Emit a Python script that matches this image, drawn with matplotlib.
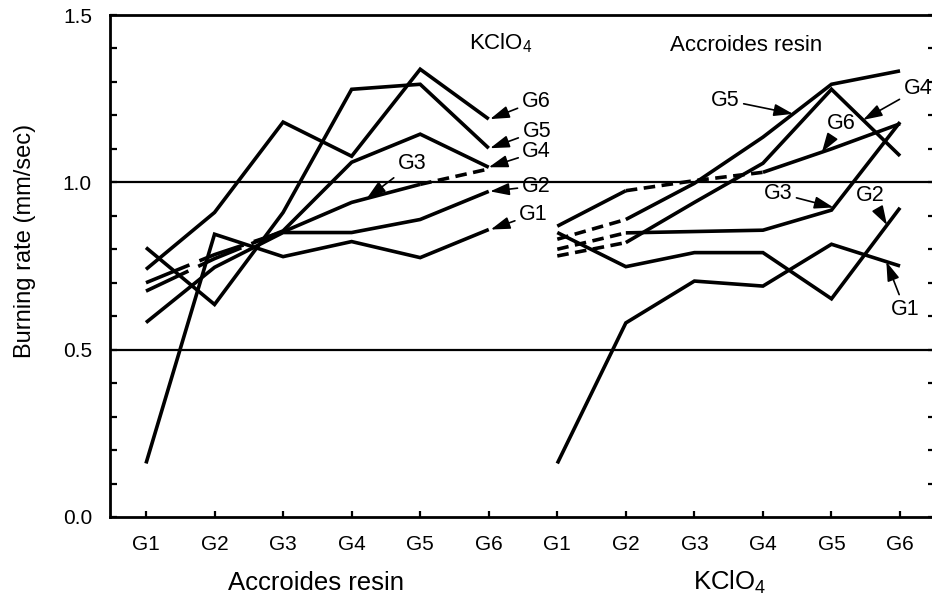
import numpy as np
import matplotlib
matplotlib.use("Agg")
import matplotlib.pyplot as plt

plt.rcParams['font.family'] = ['Liberation Sans', 'DejaVu Sans']
plt.rcParams['mathtext.fontset'] = 'custom'
plt.rcParams['mathtext.rm'] = 'Liberation Sans'
plt.rcParams['mathtext.it'] = 'Liberation Sans:italic'
plt.rcParams['mathtext.bf'] = 'Liberation Sans:bold'

# ---------------- data ----------------
groups = ["G1", "G2", "G3", "G4", "G5", "G6"]
series_names = ["G1", "G2", "G3", "G4", "G5", "G6"]

# left block: x-axis = Accroides resin grade, series = KClO4 grade
left_G1 = [0.16, 0.845, 0.778, 0.823, 0.775, 0.859]
left_G2 = [0.581, 0.746, 0.850, 0.850, 0.889, 0.973]
left_G3 = [0.700, 0.784, 0.852, 0.940, 0.994, 1.040]
left_G4 = [0.675, 0.772, 0.855, 1.060, 1.144, 1.045]
left_G5 = [0.805, 0.635, 0.910, 1.278, 1.293, 1.102]
left_G6 = [0.740, 0.910, 1.180, 1.078, 1.338, 1.189]

# right block: x-axis = KClO4 grade, series = Accroides resin grade
right_G1 = [0.16, 0.580, 0.705, 0.690, 0.815, 0.750]
right_G2 = [0.850, 0.748, 0.790, 0.790, 0.652, 0.924]
right_G3 = [0.800, 0.849, 0.853, 0.857, 0.917, 1.180]
right_G4 = [0.780, 0.820, 0.940, 1.057, 1.278, 1.079]
right_G5 = [0.830, 0.889, 0.997, 1.135, 1.293, 1.333]
right_G6 = [0.869, 0.975, 1.005, 1.030, 1.100, 1.175]

left_vals = [left_G1, left_G2, left_G3, left_G4, left_G5, left_G6]
right_vals = [right_G1, right_G2, right_G3, right_G4, right_G5, right_G6]

# ---------------- styling ----------------
LW = 2.6
long_dash = (0, (13, 3.0))
short_dash = (0, (3.2, 1.8))
# dashed segment indices per series (style only)
left_dashed = {"G3": ({0, 1}, long_dash), "G4": ({0, 1}, long_dash)}
left_dashed_tail = {"G3": ({4}, short_dash)}
right_dashed = {"G3": ({0}, short_dash), "G4": ({0}, short_dash),
                "G5": ({0}, short_dash), "G6": ({1, 2}, short_dash)}

W, H = 932, 600
fig = plt.figure(figsize=(W / 100, H / 100), dpi=100)
ax_l, ax_b, ax_r, ax_t = 110, 517, 935, 15
ax = fig.add_axes([ax_l / W, 1 - ax_b / H, (ax_r - ax_l) / W, (ax_b - ax_t) / H])

x_left = np.arange(6)
x_right = np.arange(6) + 6


def draw_series(xs, ys, styles):
    n = len(xs) - 1
    seg = []
    for i in range(n):
        st = '-'
        for idxs, pat in styles:
            if i in idxs:
                st = pat
        seg.append(st)
    i = 0
    while i < n:
        j = i
        while j + 1 < n and seg[j + 1] == seg[i]:
            j += 1
        ax.plot(xs[i:j + 2], ys[i:j + 2], color='black', lw=LW,
                linestyle=seg[i], solid_joinstyle='miter',
                solid_capstyle='butt', dash_capstyle='butt')
        i = j + 1


for name, vals in zip(series_names, left_vals):
    styles = []
    if name in left_dashed:
        styles.append(left_dashed[name])
    if name in left_dashed_tail:
        styles.append(left_dashed_tail[name])
    draw_series(x_left, np.array(vals), styles)

for name, vals in zip(series_names, right_vals):
    styles = []
    if name in right_dashed:
        styles.append(right_dashed[name])
    draw_series(x_right, np.array(vals), styles)

# reference lines
for yv in (0.5, 1.0):
    ax.axhline(yv, color='black', lw=1.6, zorder=1)

ax.set_xlim(-0.525, 11.51)
ax.set_ylim(0, 1.5)

ax.set_xticks(np.concatenate([x_left, x_right]))
ax.set_xticklabels(groups + groups)
ax.set_yticks([0.0, 0.5, 1.0, 1.5])
ax.set_yticklabels(["0.0", "0.5", "1.0", "1.5"])
ax.set_yticks(np.arange(0, 1.51, 0.1), minor=True)

ax.tick_params(axis='x', direction='in', length=4, width=1.6, labelsize=15,
               pad=13, top=False)
ax.tick_params(axis='y', which='both', direction='in', length=5, width=1.6,
               labelsize=15, pad=13, right=True)
for sp in ax.spines.values():
    sp.set_linewidth(2.0)

def interp(xs, vals, xq):
    return float(np.interp(xq, xs, vals))

# (label, series values, position along series, text x, text y)
ann_left = [
    ("G6", left_G6, 5.02, 5.69, 1.243),
    ("G5", left_G5, 5.02, 5.70, 1.153),
    ("G4", left_G4, 5.00, 5.70, 1.091),
    ("G2", left_G2, 5.02, 5.69, 0.989),
    ("G1", left_G1, 5.03, 5.65, 0.905),
    ("G3", left_G3, 3.22, 3.88, 1.055),
]
ann_right = [
    ("G5", right_G5, 9.44, 8.45, 1.246),
    ("G4", right_G4, 10.46, 11.26, 1.279),
    ("G6", right_G6, 9.86, 10.14, 1.177),
    ("G3", right_G3, 10.03, 9.22, 0.968),
    ("G2", right_G2, 10.81, 10.56, 0.962),
    ("G1", right_G1, 10.80, 11.07, 0.621),
]
arrow = dict(arrowstyle='-|>,head_length=0.75,head_width=0.24', lw=1.2,
             color='black', shrinkA=1, shrinkB=0)
for lab, vals, xq, tx, ty in ann_left:
    ax.annotate(lab, xy=(xq, interp(x_left, vals, xq)), xytext=(tx, ty),
                ha='center', va='center', fontsize=15.5, arrowprops=arrow)
for lab, vals, xq, tx, ty in ann_right:
    ax.annotate(lab, xy=(xq, interp(x_right, vals, xq)), xytext=(tx, ty),
                ha='center', va='center', fontsize=15.5, arrowprops=arrow,
                annotation_clip=False)

# block titles inside the plot
fig.text(501 / W, 1 - 49 / H, "KClO$_4$", ha='center', va='baseline', fontsize=16)
fig.text(746 / W, 1 - 51 / H, "Accroides resin", ha='center', va='baseline', fontsize=16)

# axis labels
fig.text(316 / W, 1 - 590 / H, "Accroides resin", ha='center', va='baseline', fontsize=18.5)
fig.text(730 / W, 1 - 590 / H, "KClO$_4$", ha='center', va='baseline', fontsize=18.5)
fig.text(25 / W, 1 - 241 / H, "Burning rate (mm/sec)", ha='center', va='center',
         rotation=90, fontsize=17)

fig.savefig("out.png", dpi=100)
